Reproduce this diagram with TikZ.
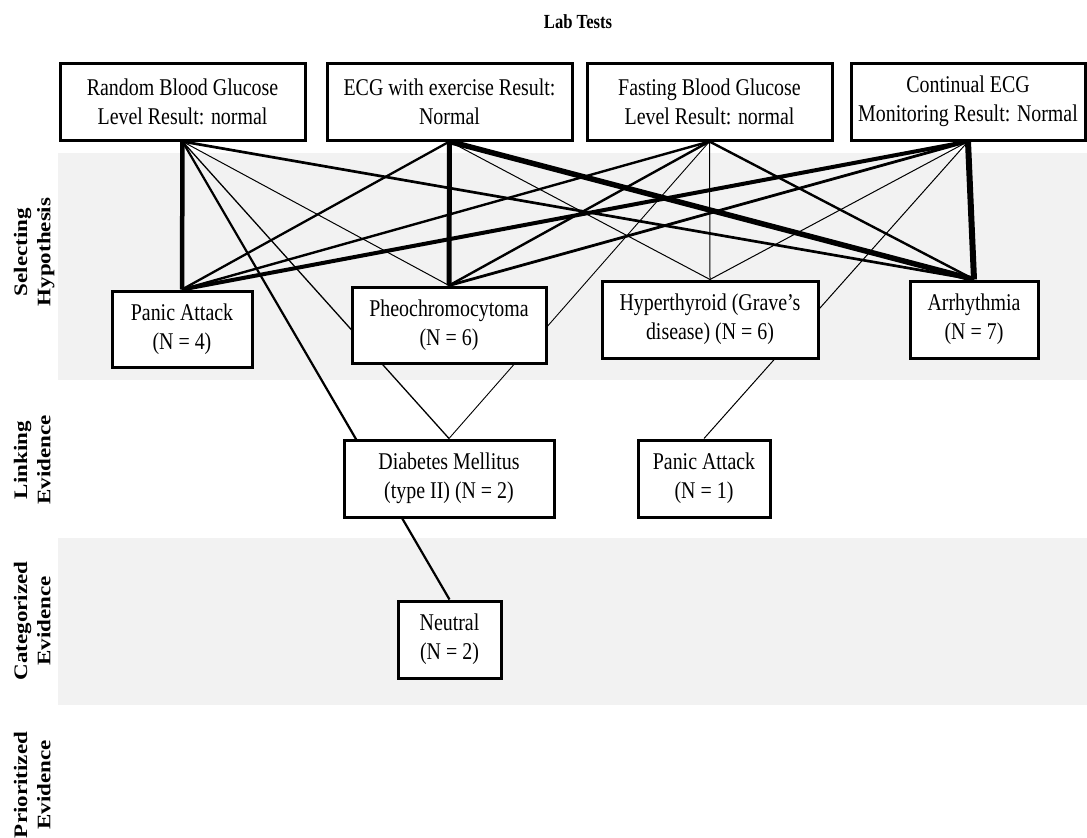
\documentclass[tikz,border=0pt]{standalone}
\usepackage{graphicx}
\usepackage{fontspec}
\setmainfont{Liberation Serif}[FakeStretch=0.83]
\newfontfamily\plainserif{Liberation Serif}
\pgfdeclarelayer{bands}
\pgfdeclarelayer{edges}
\pgfsetlayers{bands,edges,main}
\definecolor{bandgray}{HTML}{F2F2F2}
\tikzset{
  box/.style={draw=black, line width=3pt, fill=white, inner sep=0pt, align=center,
    font=\fontsize{24}{29}\selectfont},
  lnk/.style={draw=black, line width=#1},
  sidelabel/.style={rotate=90, inner sep=0pt,
    font=\plainserif\bfseries\fontsize{23}{28}\selectfont},
  titlelabel/.style={inner sep=0pt, font=\bfseries\fontsize{20}{24}\selectfont},
}
\newcommand{\sidetext}[2]{\scalebox{1}[0.83]{\begin{tabular}{@{}c@{}}#1\\#2\end{tabular}}}
\begin{document}
\begin{tikzpicture}[x=1pt,y=-1pt]
\useasboundingbox (0,0) rectangle (1087,838);

% title
\node[titlelabel] (title) at (578,22) {Lab Tests};

% lab tests
\node[box, minimum width=245pt, minimum height=77pt] (t1) at (182.5,101.5) {Random Blood Glucose\\Level Result: normal};
\node[box, minimum width=245pt, minimum height=77pt] (t2) at (449.5,101.5) {ECG with exercise Result:\\Normal};
\node[box, minimum width=245pt, minimum height=77pt] (t3) at (709.5,101.5) {Fasting Blood Glucose\\Level Result: normal};
\node[box, minimum width=234pt, minimum height=77pt] (t4) at (968,101.5) {Continual ECG\\Monitoring Result: Normal};

% hypotheses
\node[box, minimum width=140pt, minimum height=76pt] (h1) at (182,329) {Panic Attack\\(N = 4)};
\node[box, minimum width=194pt, minimum height=76pt] (h2) at (449,325) {Pheochromocytoma\\(N = 6)};
\node[box, minimum width=216pt, minimum height=77pt] (h3) at (710,319.5) {Hyperthyroid (Grave’s\\disease) (N = 6)};
\node[box, minimum width=128pt, minimum height=77pt] (h4) at (974,319.5) {Arrhythmia\\(N = 7)};

% linking evidence
\node[box, minimum width=210pt, minimum height=77pt] (l1) at (449,478.5) {Diabetes Mellitus\\(type II) (N = 2)};
\node[box, minimum width=132pt, minimum height=77pt] (l2) at (704,478.5) {Panic Attack\\(N = 1)};

% categorized evidence
\node[box, minimum width=103pt, minimum height=77pt] (c1) at (449.5,639.5) {Neutral\\(N = 2)};

% side labels
\node[sidelabel] (s1) at (34,252) {\sidetext{Selecting}{Hypothesis}};
\node[sidelabel] (s2) at (34,460) {\sidetext{Linking}{Evidence}};
\node[sidelabel] (s3) at (34,621) {\sidetext{Categorized}{Evidence}};
\node[sidelabel] (s4) at (34,785) {\sidetext{Prioritized}{Evidence}};

\begin{pgfonlayer}{bands}
  \fill[bandgray] (58,153) rectangle (1087,380);
  \fill[bandgray] (58,538) rectangle (1087,705);
\end{pgfonlayer}

\begin{pgfonlayer}{edges}
  % Random Blood Glucose
  \draw[lnk=4.5pt] (t1.south) -- (h1.north);
  \draw[lnk=1pt]   (t1.south) -- (h2.north);
  \draw[lnk=2.7pt] (t1.south) -- (h4.north);
  \draw[lnk=1.3pt] (t1.south) -- (l1.north);
  \draw[lnk=2.2pt] (t1.south) -- (c1.north);
  % ECG with exercise
  \draw[lnk=2.3pt] (t2.south) -- (h1.north);
  \draw[lnk=5pt]   (t2.south) -- (h2.north);
  \draw[lnk=1pt]   (t2.south) -- (h3.north);
  \draw[lnk=5.5pt] (t2.south) -- (h4.north);
  % Fasting Blood Glucose
  \draw[lnk=2.4pt] (t3.south) -- (h1.north);
  \draw[lnk=2.4pt] (t3.south) -- (h2.north);
  \draw[lnk=1pt]   (t3.south) -- (h3.north);
  \draw[lnk=2.4pt] (t3.south) -- (h4.north);
  \draw[lnk=0.9pt] (t3.south) -- (l1.north);
  % Continual ECG
  \draw[lnk=4pt]   (t4.south) -- (h1.north);
  \draw[lnk=2.8pt] (t4.south) -- (h2.north);
  \draw[lnk=1pt]   (t4.south) -- (h3.north);
  \draw[lnk=6pt]   (t4.south) -- (h4.north);
  \draw[lnk=1pt]   (t4.south) -- (l2.north);
\end{pgfonlayer}
\end{tikzpicture}
\end{document}
